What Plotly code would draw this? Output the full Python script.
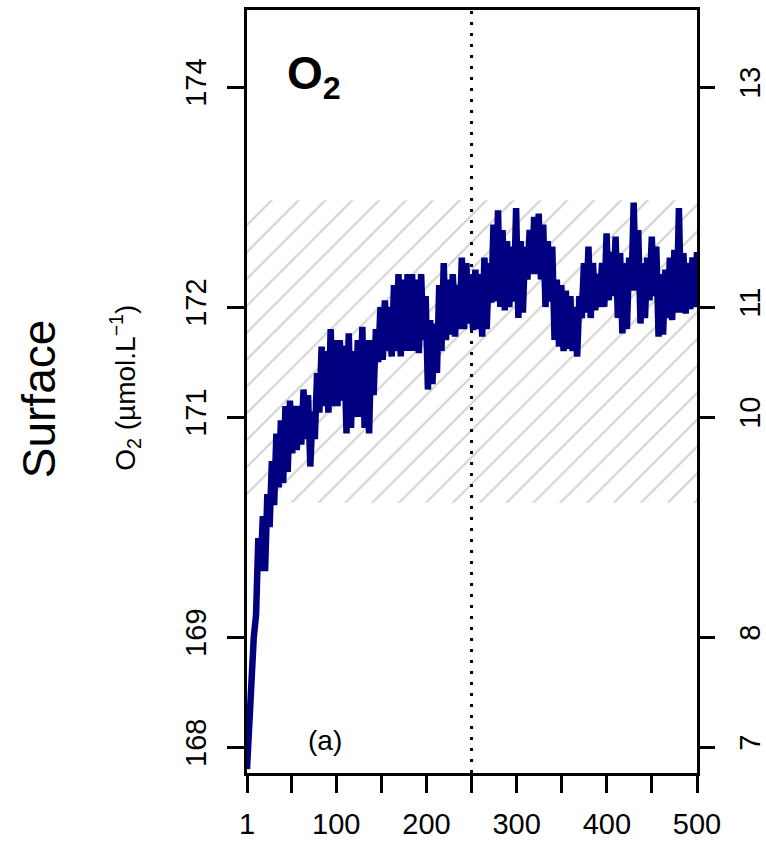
import numpy as np
import plotly.graph_objects as go

# O2 at the surface (alternating low / high of the noisy band)
o2 = [
    167.8, 168.3, 168.7, 169.0, 169.2, 169.9, 169.6, 170.1, 169.6, 170.3,
    170.0, 170.6, 170.2, 170.85, 170.36, 170.97, 170.4, 171.1, 170.5, 171.15,
    170.67, 171.1, 170.7, 171.1, 170.75, 171.25, 170.8, 171.2, 170.55, 171.05,
    170.8, 171.4, 171.04, 171.64, 171.1, 171.6, 171.04, 171.8, 171.1, 171.7,
    171.1, 171.7, 171.15, 171.65, 170.85, 171.76, 170.9, 171.6, 171.0, 171.7,
    171.0, 171.82, 170.9, 171.7, 170.85, 171.7, 171.2, 171.8, 171.5, 172.0,
    171.52, 172.06, 171.6, 172.0, 171.55, 172.2, 171.6, 172.3, 171.55, 172.25,
    171.6, 172.3, 171.6, 172.3, 171.6, 172.25, 171.58, 172.3, 171.7, 172.1,
    171.25, 171.88, 171.3, 171.85, 171.4, 172.2, 171.6, 172.4, 171.7, 172.25,
    171.75, 172.3, 171.73, 172.2, 171.8, 172.45, 171.8, 172.4, 171.85, 172.3,
    171.79, 172.34, 171.8, 172.3, 171.73, 172.45, 171.8, 172.4, 172.04, 172.75,
    172.05, 172.88, 172.0, 172.7, 171.97, 172.6, 172.0, 172.55, 172.05, 172.9,
    171.9, 172.6, 171.95, 172.55, 172.25, 172.7, 172.3, 172.82, 172.3, 172.85,
    172.25, 172.75, 172.0, 172.6, 172.05, 172.55, 171.7, 172.25, 171.64, 172.2,
    171.6, 172.15, 171.62, 172.1, 171.6, 172.0, 171.55, 172.1, 171.9, 172.4,
    171.95, 172.55, 171.9, 172.4, 171.97, 172.3, 172.0, 172.4, 172.0, 172.67,
    172.06, 172.5, 172.1, 172.64, 171.9, 172.49, 171.76, 172.4, 171.8, 172.45,
    172.15, 172.95, 172.15, 172.7, 171.85, 172.4, 171.9, 172.45, 172.06, 172.64,
    172.1, 172.55, 171.73, 172.3, 171.75, 172.34, 171.9, 172.45, 171.88, 172.52,
    171.95, 172.9, 171.95, 172.49, 171.94, 172.4, 171.98, 172.45, 172.0, 172.5,
]
step = np.linspace(1, 500, len(o2))

# hatched reference band and marker line
band_lo, band_hi = 170.22, 172.97
split_at = 250

left_ticks = [174, 172, 171, 169, 168]
right_ticks = [13, 11, 10, 8, 7]
offset = 161  # right axis = left axis - 161
x_ticks = [1, 50, 100, 150, 200, 250, 300, 350, 400, 450, 500]
x_labels = ["1", "", "100", "", "200", "", "300", "", "400", "", "500"]

y_range = [167.764, 174.7]

FONT = "Liberation Sans, Arial, Helvetica, sans-serif"
NAVY = "#000080"

fig = go.Figure()

# hatched band
fig.add_trace(go.Scatter(
    x=[1, 500, 500, 1, 1],
    y=[band_lo, band_lo, band_hi, band_hi, band_lo],
    fill="toself",
    fillpattern=dict(shape="/", size=19, solidity=0.12, fgcolor="#aaaaaa", bgcolor="white"),
    line=dict(width=0),
    mode="lines",
    hoverinfo="skip",
    showlegend=False,
))

# dotted split line
fig.add_trace(go.Scatter(
    x=[split_at, split_at], y=y_range,
    mode="lines",
    line=dict(color="black", width=3, dash="3px,8px"),
    showlegend=False,
))

# the series
fig.add_trace(go.Scatter(
    x=step, y=o2,
    mode="lines",
    line=dict(color=NAVY, width=6.5),
    showlegend=False,
))

# dummy trace for right axis
fig.add_trace(go.Scatter(
    x=[1], y=[right_ticks[0]], yaxis="y2", mode="markers",
    marker=dict(opacity=0), showlegend=False, hoverinfo="skip",
))

axis_common = dict(
    ticks="outside", ticklen=17, tickwidth=2.5, tickcolor="black",
    showgrid=False, zeroline=False, automargin=False,
)

fig.update_layout(
    width=766, height=842,
    margin=dict(l=247, r=69, t=10, b=69),
    plot_bgcolor="white", paper_bgcolor="white",
    font=dict(family=FONT, size=29, color="black"),
    xaxis=dict(
        range=[1, 500], tickvals=x_ticks, ticktext=x_labels,
        showline=True, linewidth=2.5, linecolor="black", mirror=True,
        ticklabelstandoff=6, **axis_common,
    ),
    yaxis=dict(
        range=y_range, tickvals=left_ticks, ticktext=[str(t) for t in left_ticks],
        tickangle=-90, ticklabelstandoff=10,
        showline=True, linewidth=2.5, linecolor="black", mirror=True,
        **axis_common,
    ),
    yaxis2=dict(
        overlaying="y", side="right",
        range=[y_range[0] - offset, y_range[1] - offset],
        tickvals=right_ticks, ticktext=[str(t) for t in right_ticks],
        tickangle=-90, ticklabelstandoff=10, showline=False,
        **axis_common,
    ),
    annotations=[
        dict(text="<b>O<sub>2</sub></b>", x=75, y=174.1, xref="x", yref="y",
             showarrow=False, font=dict(size=46)),
        dict(text="(a)", x=88, y=168.06, xref="x", yref="y",
             showarrow=False, font=dict(size=28)),
        dict(text="O<sub>2</sub> (µmol.L<sup>−1</sup>)", x=-0.271, y=0.505,
             xref="paper", yref="paper", xanchor="center", yanchor="middle",
             textangle=-90, showarrow=False, font=dict(size=28)),
        dict(text="Surface", x=-0.462, y=0.49, xref="paper", yref="paper",
             xanchor="center", yanchor="middle",
             textangle=-90, showarrow=False, font=dict(size=46)),
    ],
)

fig.write_html("out.html", post_script="document.body.style.margin='0';",
               config={"displayModeBar": False})
